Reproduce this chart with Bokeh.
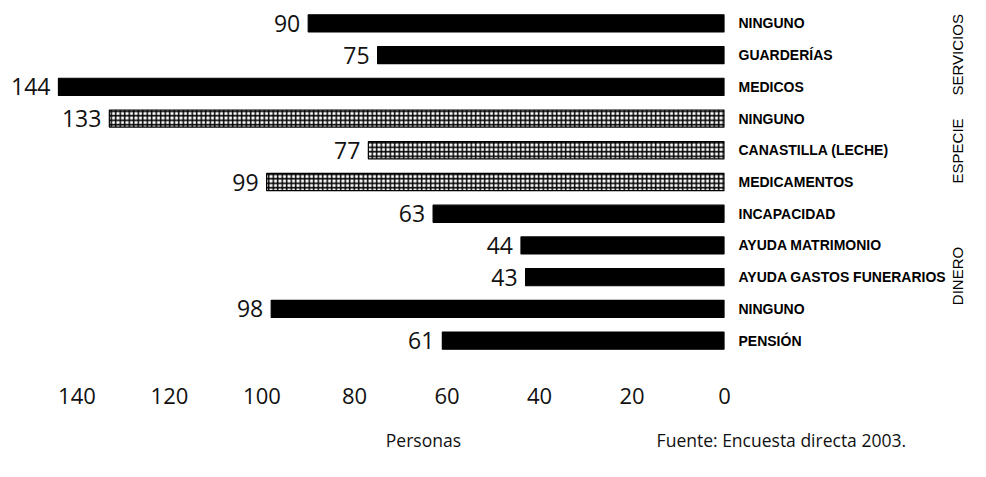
from bokeh.plotting import figure
from bokeh.models import (Range1d, ColumnDataSource, FixedTicker, LinearAxis)
from bokeh.core.properties import value
from bokeh.embed import file_html
from bokeh.resources import INLINE
import math

# ---- data (top to bottom as in the chart) ----
groups = ["SERVICIOS", "SERVICIOS", "SERVICIOS",
          "ESPECIE", "ESPECIE", "ESPECIE",
          "DINERO", "DINERO", "DINERO", "DINERO", "DINERO"]
labels = ["NINGUNO", "GUARDERÍAS", "MEDICOS",
          "NINGUNO", "CANASTILLA (LECHE)", "MEDICAMENTOS",
          "INCAPACIDAD", "AYUDA MATRIMONIO", "AYUDA GASTOS FUNERARIOS",
          "NINGUNO", "PENSIÓN"]
personas = [90, 75, 144, 133, 77, 99, 63, 44, 43, 98, 61]
x_ticks = [140, 120, 100, 80, 60, 40, 20, 0]
group_names = ["SERVICIOS", "ESPECIE", "DINERO"]
hatched_group = "ESPECIE"
axis_title = "Personas"
source_note = "Fuente: Encuesta directa 2003."

n = len(labels)
# row slots: first item at the top
ypos = [n - 1 - i + 0.5 for i in range(n)]

FRAME_W, FRAME_H = 716, 349
p = figure(frame_width=FRAME_W, frame_height=FRAME_H,
           output_backend="svg", toolbar_location=None,
           y_range=Range1d(0, n), x_range=Range1d(154.8, 0),
           y_axis_location="right",
           min_border_left=8, min_border_top=7,
           min_border_right=246, min_border_bottom=105)
p.outline_line_color = None
p.grid.visible = False
p.background_fill_color = "white"

src = ColumnDataSource(dict(
    y=ypos, x=personas, t=[str(v) for v in personas],
    fill=["white" if g == hatched_group else "black" for g in groups],
    hatch=["+" if g == hatched_group else " " for g in groups]))

p.hbar(y="y", right="x", left=0, height=0.54, source=src,
       fill_color="fill", line_color="black", line_width=1.2,
       hatch_pattern="hatch", hatch_color="black", hatch_scale=4.5,
       hatch_weight=1.5)

p.text(x="x", y="y", text="t", source=src, x_offset=-8, text_align="right",
       text_baseline="middle", text_font=value("Open Sans"),
       text_font_size="23px", text_color="#111111")

# bottom axis
xa = p.xaxis[0]
xa.ticker = FixedTicker(ticks=x_ticks)
xa.axis_line_color = None
xa.major_tick_line_color = None
xa.minor_tick_line_color = None
xa.major_tick_out = 0
xa.major_label_standoff = 31
xa.major_label_text_font = "Open Sans"
xa.major_label_text_font_size = "22px"
xa.major_label_text_color = "#111111"

# second bottom axis: "Personas" and the source note on one line
NB = "\u00a0"
note_ticks = [65.1, 0]
note_axis = LinearAxis(ticker=FixedTicker(ticks=note_ticks),
                       major_label_overrides={65.1: axis_title,
                                              0: NB * 25 + source_note},
                       axis_line_color=None, major_tick_line_color=None,
                       minor_tick_line_color=None, major_tick_out=0,
                       major_label_standoff=21,
                       major_label_text_font="Open Sans",
                       major_label_text_font_size="17.5px",
                       major_label_text_color="#111111")
p.add_layout(note_axis, "below")

# right axis: item labels
ya = p.yaxis[0]
ya.ticker = FixedTicker(ticks=ypos)
ya.major_label_overrides = {y: lab for y, lab in zip(ypos, labels)}
ya.axis_line_color = None
ya.major_tick_line_color = None
ya.minor_tick_line_color = None
ya.major_tick_out = 0
ya.major_label_standoff = 14
ya.major_label_text_font = "Liberation Sans"
ya.major_label_text_font_style = "bold"
ya.major_label_text_font_size = "14px"
ya.major_label_text_color = "black"

# outer right axis: group labels, centred on each group, reading bottom-to-top
GFS = 15
px_per_row = FRAME_H / n
gticks, goverrides = [], {}
for g in group_names:
    rows = [y for y, gg in zip(ypos, groups) if gg == g]
    center = sum(rows) / len(rows)
    w_px = sum(0.278 if c == "I" else 0.69 for c in g) * GFS
    t = round(center - (w_px / 2) / px_per_row, 4)
    gticks.append(t)
    goverrides[t] = g
ga = LinearAxis(ticker=FixedTicker(ticks=gticks),
                major_label_overrides=goverrides,
                major_label_orientation=math.pi / 2,
                axis_line_color=None, major_tick_line_color=None,
                minor_tick_line_color=None, major_tick_out=0,
                major_label_standoff=8,
                major_label_text_font="Liberation Sans",
                major_label_text_font_size=f"{GFS}px",
                major_label_text_color="black")
p.add_layout(ga, "right")

open("out.html", "w").write(file_html(p, INLINE))
